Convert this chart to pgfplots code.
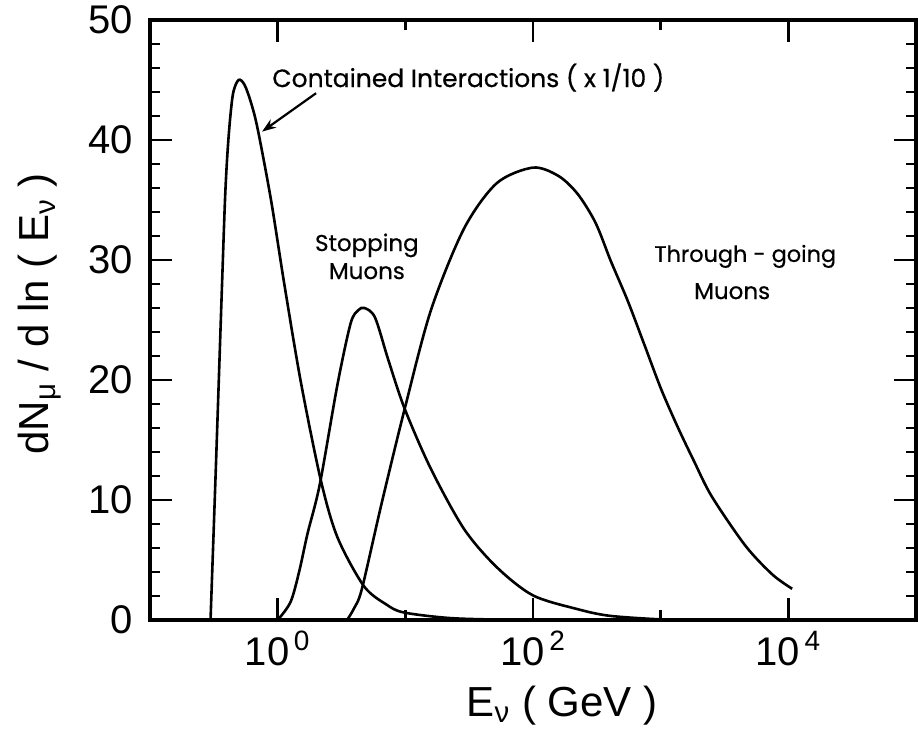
\documentclass[border=0pt]{standalone}
\usepackage{fontspec}
\setmainfont{Liberation Sans}
\newfontfamily\annfont[FakeBold=0.5]{Poppins}
\usepackage{pgfplots}
\pgfplotsset{compat=1.18}
\usetikzlibrary{arrows.meta}

\begin{document}
\begin{tikzpicture}
\begin{axis}[
  name=ax, at={(0,0)}, anchor=south west,
  scale only axis, width=383pt, height=300pt,
  xmode=log, xmin=0.1, xmax=1e5, ymin=0, ymax=50,
  xtick={1,100,10000},
  xticklabels={{10\textsuperscript{\,0}},{10\textsuperscript{\,2}},{10\textsuperscript{\,4}}},
  minor xtick={10,1000},
  ytick={0,10,20,30,40,50},
  minor ytick={2,4,6,8,12,14,16,18,22,24,26,28,32,34,36,38,42,44,46,48},
  tick align=inside,
  major tick length=11pt, minor tick length=5pt,
  every tick/.style={line width=1.2pt, black},
  axis line style={line width=1.6pt},
  /pgf/number format/assume math mode=true,
  ticklabel style={font=\fontsize{20}{24}\selectfont},
  xticklabel style={yshift=-2pt},
  yticklabel style={xshift=-5pt},
  xlabel={E\textsubscript{ν} ( GeV )},
  ylabel={dN\textsubscript{μ} / d ln ( E\textsubscript{ν} )},
  label style={font=\fontsize{21}{25}\selectfont},
  xlabel style={at={(axis description cs:0.538,-0.142)}, anchor=center},
  ylabel style={at={(axis description cs:-0.144,0.51)}, anchor=center},
]
% Contained interactions (x 1/10)
\addplot[smooth, line width=1.3pt, black] table[row sep=\\] {
E y \\
0.298 0.0 \\
0.330 13.5 \\
0.366 27.7 \\
0.389 35.6 \\
0.413 40.3 \\
0.446 43.8 \\
0.494 45.0 \\
0.550 44.6 \\
0.619 43.1 \\
0.698 40.9 \\
0.887 35.0 \\
1.127 28.0 \\
1.521 19.8 \\
2.178 11.65 \\
2.938 6.9 \\
4.732 2.83 \\
7.08 1.3 \\
9.705 0.63 \\
22.39 0.16 \\
63.1 0.02 \\
158 0.0 \\
};
% Stopping muons
\addplot[smooth, line width=1.3pt, black] table[row sep=\\] {
E y \\
0.955 0.0 \\
1.03 0.16 \\
1.27 1.57 \\
1.479 4.1 \\
1.714 7.2 \\
2.138 11.3 \\
2.938 19.6 \\
3.724 24.7 \\
4.266 25.8 \\
4.786 26.0 \\
5.794 25.2 \\
7.345 21.7 \\
9.886 17.6 \\
15.85 12.6 \\
28.77 7.6 \\
52.0 4.4 \\
100 2.05 \\
223.9 0.9 \\
398 0.35 \\
1000 0.05 \\
1995 0.0 \\
};
% Through-going muons
\addplot[smooth, line width=1.3pt, black] table[row sep=\\] {
E y \\
3.5 0.0 \\
3.98 1.0 \\
4.571 2.6 \\
6.516 9.7 \\
9.886 17.6 \\
15.85 25.8 \\
28.77 32.6 \\
52.0 36.4 \\
100 37.7 \\
158.5 37.0 \\
223.9 35.5 \\
309 33.1 \\
407.4 29.9 \\
552 26.6 \\
748 22.9 \\
1012 19.2 \\
1371 16.0 \\
1832 13.2 \\
2512 10.3 \\
4603 6.2 \\
7482 3.8 \\
10715 2.6 \\
};
\node[anchor=west, font=\annfont\fontsize{12.5}{15}\selectfont] at (axis cs:0.80,45.2) {Contained Interactions ( x 1/10 )};
\draw[line width=1.1pt, -{Stealth[length=7pt,width=5pt]}] (axis cs:2.0,43.9) -- (axis cs:0.755,40.7);
\node[align=center, font=\annfont\fontsize{11.5}{14}\selectfont] at (axis cs:5.0,30.3) {Stopping\\Muons};
\node[font=\annfont\fontsize{11.2}{13}\selectfont] at (axis cs:4603,30.3) {Through - going};
\node[font=\annfont\fontsize{11.5}{13}\selectfont] at (axis cs:3631,27.4) {Muons};
\end{axis}
\pgfresetboundingbox
\path[use as bounding box] (-75pt,-56pt) rectangle (384pt,310pt);
\end{tikzpicture}
\end{document}
